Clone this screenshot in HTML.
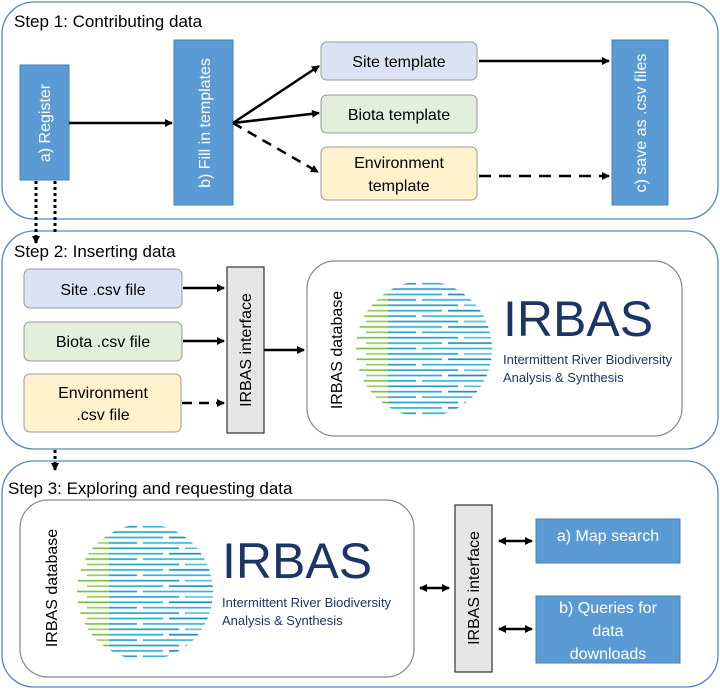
<!DOCTYPE html>
<html><head><meta charset="utf-8"><style>
html,body{margin:0;padding:0;background:#fff;}
svg{display:block;font-family:"Liberation Sans",sans-serif;}
</style></head><body>
<svg width="720" height="690" viewBox="0 0 720 690" xmlns="http://www.w3.org/2000/svg">
<defs>
<marker id="ah" markerWidth="8" markerHeight="8" refX="7" refY="4" orient="auto" markerUnits="userSpaceOnUse"><path d="M0,0 L8,4 L0,8 z" fill="#000"/></marker>
<marker id="ahs" markerWidth="8" markerHeight="8" refX="7" refY="4" orient="auto-start-reverse" markerUnits="userSpaceOnUse"><path d="M0,0 L8,4 L0,8 z" fill="#000"/></marker>
<pattern id="pb" width="140" height="16.2" patternUnits="userSpaceOnUse" patternTransform="translate(-70,-68)">
<g stroke="#2a9fc9" stroke-width="1.7">
<line x1="0" y1="2.7" x2="62" y2="2.7"/><line x1="68" y1="2.7" x2="140" y2="2.7" stroke="#3db2d6"/>
<line x1="0" y1="8.1" x2="28" y2="8.1" stroke="#1f8fb8"/><line x1="33" y1="8.1" x2="104" y2="8.1"/><line x1="110" y1="8.1" x2="140" y2="8.1" stroke="#5bc0e0"/>
<line x1="0" y1="13.5" x2="88" y2="13.5" stroke="#2bb0d0"/><line x1="94" y1="13.5" x2="140" y2="13.5" stroke="#1f8fb8"/>
</g>
</pattern>
<pattern id="pg" width="60" height="10.8" patternUnits="userSpaceOnUse" patternTransform="translate(-70,-68)">
<g stroke="#7cc242" stroke-width="1.7">
<line x1="0" y1="2.7" x2="48" y2="2.7"/>
<line x1="12" y1="8.1" x2="60" y2="8.1" stroke="#95cf5a"/>
</g>
</pattern>
<clipPath id="cc"><circle cx="0" cy="0" r="68"/></clipPath>
<g id="logo">
<circle cx="0" cy="0" r="68" fill="url(#pb)"/>
<g clip-path="url(#cc)"><rect x="-70" y="-70" width="34" height="140" fill="#fff"/><rect x="-70" y="-70" width="34" height="140" fill="url(#pg)"/></g>
</g>
</defs>

<!-- Step 1 -->
<rect x="2" y="2" width="716" height="217" rx="32" fill="#fff" stroke="#5a86bb" stroke-width="1.3"/>
<text x="14" y="27" font-size="17" fill="#000">Step 1: Contributing data</text>
<rect x="20" y="65" width="49" height="115" fill="#5b9bd5" stroke="#4a7fb5"/>
<text transform="translate(50,123) rotate(-90)" text-anchor="middle" font-size="16" fill="#fff">a) Register</text>
<rect x="174" y="40" width="59" height="165" fill="#5b9bd5" stroke="#4a7fb5"/>
<text transform="translate(210,123) rotate(-90)" text-anchor="middle" font-size="16" fill="#fff">b) Fill in templates</text>
<rect x="321" y="42" width="156" height="38" rx="6" fill="#dae3f3" stroke="#999"/>
<text x="399" y="67" text-anchor="middle" font-size="16">Site template</text>
<rect x="321" y="95" width="156" height="38" rx="6" fill="#e2efda" stroke="#999"/>
<text x="399" y="120" text-anchor="middle" font-size="16">Biota template</text>
<rect x="321" y="147" width="156" height="53" rx="6" fill="#fff2cc" stroke="#999"/>
<text x="399" y="168" text-anchor="middle" font-size="16">Environment</text>
<text x="399" y="191" text-anchor="middle" font-size="16">template</text>
<rect x="612" y="40" width="56" height="165" fill="#5b9bd5" stroke="#4a7fb5"/>
<text transform="translate(646,123) rotate(-90)" text-anchor="middle" font-size="16" fill="#fff">c) save as .csv files</text>
<g stroke="#000" stroke-width="2.5" fill="none">
<line x1="69" y1="123" x2="172" y2="123" marker-end="url(#ah)"/>
<line x1="233" y1="123" x2="319" y2="66" marker-end="url(#ah)"/>
<line x1="233" y1="123" x2="319" y2="113" marker-end="url(#ah)"/>
<line x1="233" y1="123" x2="318" y2="172" stroke-dasharray="10,7" marker-end="url(#ah)"/>
<line x1="479" y1="61" x2="609" y2="61" marker-end="url(#ah)"/>
<line x1="479" y1="176" x2="609" y2="176" stroke-dasharray="12,8" marker-end="url(#ah)"/>
</g>

<!-- Step 2 -->
<rect x="2" y="231" width="716" height="218" rx="32" fill="#fff" stroke="#5a86bb" stroke-width="1.3"/>
<text x="14" y="257" font-size="17">Step 2: Inserting data</text>
<rect x="24" y="269" width="158" height="39" rx="6" fill="#dae3f3" stroke="#999"/>
<text x="103" y="295" text-anchor="middle" font-size="16">Site .csv file</text>
<rect x="24" y="322" width="158" height="39" rx="6" fill="#e2efda" stroke="#999"/>
<text x="103" y="347" text-anchor="middle" font-size="16">Biota .csv file</text>
<rect x="24" y="374" width="157" height="58" rx="6" fill="#fff2cc" stroke="#999"/>
<text x="103" y="398" text-anchor="middle" font-size="16">Environment</text>
<text x="103" y="420" text-anchor="middle" font-size="16">.csv file</text>
<rect x="227" y="267" width="37" height="166" fill="#e6e6e6" stroke="#333" stroke-width="1.2"/>
<text transform="translate(251,350) rotate(-90)" text-anchor="middle" font-size="16">IRBAS interface</text>
<g stroke="#000" stroke-width="2.5">
<line x1="183" y1="288" x2="224" y2="288" marker-end="url(#ah)"/>
<line x1="183" y1="341" x2="224" y2="341" marker-end="url(#ah)"/>
<line x1="182" y1="403" x2="224" y2="403" stroke-dasharray="10,7" marker-end="url(#ah)"/>
<line x1="264" y1="350" x2="304" y2="350" marker-end="url(#ah)"/>
</g>
<rect x="307" y="261" width="375" height="175" rx="28" fill="#fff" stroke="#888" stroke-width="1.2"/>
<text transform="translate(342,350) rotate(-90)" text-anchor="middle" font-size="16">IRBAS database</text>
<use href="#logo" transform="translate(424,349)"/>
<text x="503" y="336" font-size="50" fill="#1c3566">IRBAS</text>
<text x="503" y="364" font-size="13" fill="#1c3566">Intermittent River Biodiversity</text>
<text x="503" y="382" font-size="13" fill="#1c3566">Analysis &amp; Synthesis</text>

<!-- Step 3 -->
<rect x="2" y="461" width="716" height="226" rx="32" fill="#fff" stroke="#5a86bb" stroke-width="1.3"/>
<text x="8" y="494" font-size="17">Step 3: Exploring and requesting data</text>
<rect x="20" y="500" width="394" height="177" rx="28" fill="#fff" stroke="#888" stroke-width="1.2"/>
<text transform="translate(57,588) rotate(-90)" text-anchor="middle" font-size="16">IRBAS database</text>
<use href="#logo" transform="translate(145,592)"/>
<text x="222" y="578" font-size="50" fill="#1c3566">IRBAS</text>
<text x="222" y="607" font-size="13" fill="#1c3566">Intermittent River Biodiversity</text>
<text x="222" y="625" font-size="13" fill="#1c3566">Analysis &amp; Synthesis</text>
<rect x="455" y="505" width="37" height="167" fill="#e6e6e6" stroke="#333" stroke-width="1.2"/>
<text transform="translate(479,588) rotate(-90)" text-anchor="middle" font-size="16">IRBAS interface</text>
<rect x="536" y="519" width="144" height="44" fill="#5b9bd5" stroke="#4a7fb5"/>
<text x="608" y="541" text-anchor="middle" font-size="16" fill="#fff">a) Map search</text>
<rect x="536" y="596" width="144" height="67" fill="#5b9bd5" stroke="#4a7fb5"/>
<text x="608" y="613" text-anchor="middle" font-size="16" fill="#fff">b) Queries for</text>
<text x="608" y="636" text-anchor="middle" font-size="16" fill="#fff">data</text>
<text x="608" y="659" text-anchor="middle" font-size="16" fill="#fff">downloads</text>
<g stroke="#000" stroke-width="2.5">
<line x1="420" y1="588" x2="449" y2="588" marker-start="url(#ahs)" marker-end="url(#ahs)"/>
<line x1="499" y1="541" x2="532" y2="541" marker-start="url(#ahs)" marker-end="url(#ahs)"/>
<line x1="499" y1="629" x2="532" y2="629" marker-start="url(#ahs)" marker-end="url(#ahs)"/>
</g>

<!-- dotted connectors on top -->
<g stroke="#000" stroke-width="3" stroke-dasharray="3,3" fill="none">
<line x1="36" y1="181" x2="36" y2="243" marker-end="url(#ah)"/>
<line x1="55" y1="181" x2="55" y2="232"/>
<line x1="55" y1="450" x2="55" y2="470" marker-end="url(#ah)"/>
</g>
</svg>
</body></html>
